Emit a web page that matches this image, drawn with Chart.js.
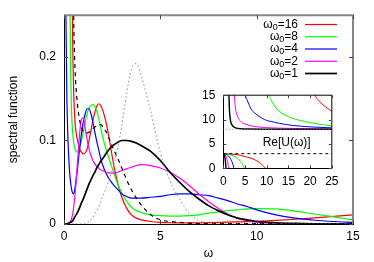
<!DOCTYPE html>
<html>
<head>
<meta charset="utf-8">
<script src="https://cdn.jsdelivr.net/npm/chart.js@4.4.0/dist/chart.umd.min.js"></script>
<style>
  html, body { margin: 0; padding: 0; background: #fff; }
  #wrap { position: relative; width: 374px; height: 262px; }
  #mainChart { position: absolute; left: 0; top: 0; }
  #insetChart { position: absolute; left: 195px; top: 80px; }
</style>
</head>
<body>
<div id="wrap">
  <canvas id="mainChart" width="374" height="262" style="width:374px;height:262px"></canvas>
  <canvas id="insetChart" width="150" height="112" style="width:150px;height:112px"></canvas>
</div>
<script>
// Spectral functions - main panel
const omega = [0, 0.05, 0.1, 0.15, 0.2, 0.25, 0.3, 0.35, 0.4, 0.45, 0.5, 0.55, 0.6,
  0.7, 0.8, 0.9, 1.0, 1.1, 1.2, 1.3, 1.4, 1.5, 1.6, 1.7, 1.8, 1.9, 2.0,
  2.2, 2.4, 2.6, 2.8, 3.0, 3.25, 3.5, 3.75, 4.0,
  4.5, 5.0, 5.5, 6.0, 6.5, 7.0, 7.5, 8.0, 8.5, 9.0, 9.5, 10, 11, 12, 13, 14, 15];

const specW16 = [8, 8, 6, 4, 2.5, 1.5, 0.9, 0.55, 0.34, 0.22, 0.16, 0.13, 0.115,
  0.1, 0.091, 0.086, 0.084, 0.085, 0.09, 0.1, 0.112, 0.124, 0.134, 0.141, 0.144, 0.142, 0.137,
  0.12, 0.095, 0.068, 0.048, 0.032, 0.019, 0.011, 0.007, 0.005,
  0.003, 0.002, 0.0015, 0.0013, 0.0013, 0.0014, 0.0016, 0.0019, 0.0022, 0.0025, 0.0028, 0.0032, 0.0043, 0.0057, 0.0074, 0.0092, 0.011];

const specW8 = [8, 6, 3, 1.6, 0.9, 0.5, 0.28, 0.18, 0.13, 0.11, 0.098, 0.092, 0.088,
  0.086, 0.09, 0.099, 0.11, 0.122, 0.132, 0.139, 0.142, 0.143, 0.141, 0.135, 0.127, 0.116, 0.105,
  0.088, 0.074, 0.06, 0.047, 0.037, 0.027, 0.02, 0.016, 0.014,
  0.011, 0.01, 0.0095, 0.0095, 0.01, 0.011, 0.013, 0.0145, 0.016, 0.017, 0.018, 0.0185, 0.018, 0.0155, 0.012, 0.0085, 0.005];

const specW4 = [5, 0.6, 0.25, 0.15, 0.105, 0.078, 0.06, 0.048, 0.041, 0.037, 0.036, 0.04, 0.048,
  0.066, 0.088, 0.107, 0.122, 0.132, 0.138, 0.138, 0.132, 0.122, 0.11, 0.099, 0.089, 0.079, 0.071,
  0.06, 0.052, 0.046, 0.041, 0.036, 0.033, 0.031, 0.031, 0.031,
  0.032, 0.033, 0.035, 0.036, 0.036, 0.035, 0.034, 0.031, 0.028, 0.024, 0.021, 0.017, 0.011, 0.007, 0.0045, 0.003, 0.002];

const specW2 = [0, 0, 0, 0, 0.0005, 0.001, 0.002, 0.004, 0.007, 0.012, 0.02, 0.03, 0.042,
  0.074, 0.105, 0.125, 0.127, 0.115, 0.101, 0.09, 0.082, 0.076, 0.072, 0.069, 0.067, 0.065, 0.064,
  0.062, 0.061, 0.061, 0.062, 0.064, 0.066, 0.068, 0.07, 0.071,
  0.07, 0.067, 0.062, 0.055, 0.046, 0.036, 0.027, 0.019, 0.012, 0.007, 0.004, 0.002, 0.001, 0, 0, 0, 0];

const specW1 = [0, 0, 0, 0.0003, 0.0006, 0.001, 0.0015, 0.002, 0.003, 0.004, 0.006, 0.008, 0.01,
  0.014, 0.019, 0.025, 0.03, 0.036, 0.042, 0.048, 0.053, 0.058, 0.062, 0.067, 0.071, 0.075, 0.078,
  0.085, 0.091, 0.095, 0.098, 0.1, 0.1, 0.099, 0.097, 0.094,
  0.087, 0.076, 0.062, 0.05, 0.039, 0.03, 0.022, 0.016, 0.011, 0.007, 0.005, 0.003, 0.0015, 0.0007, 0.0003, 0.0001, 0];

// dashed black curve
const specDashed = [20, 14, 10, 7, 5, 3.5, 2.2, 1.2, 0.6, 0.36, 0.25, 0.2, 0.172,
  0.143, 0.126, 0.116, 0.111, 0.109, 0.109, 0.11, 0.112, 0.114, 0.116, 0.118, 0.119, 0.119, 0.117,
  0.11, 0.099, 0.088, 0.078, 0.067, 0.053, 0.041, 0.031, 0.023,
  0.011, 0.005, 0.003, 0.002, 0.001, 0.0005, 0.0005, 0.0005, 0.0005, 0.0005, 0.0005, 0.0005, 0.0005, 0.0005, 0.0005, 0.0005, 0.0005];

// dotted grey curve
const specDotted = [0, 0, 0, 0, 0, 0, 0, 0, 0, 0, 0, 0, 0,
  0, 0, 0, 0, 0.0005, 0.001, 0.003, 0.005, 0.008, 0.012, 0.016, 0.021, 0.026, 0.032,
  0.044, 0.057, 0.072, 0.092, 0.118, 0.156, 0.186, 0.192, 0.178,
  0.135, 0.085, 0.052, 0.03, 0.013, 0.004, 0.001, 0, 0, 0, 0, 0, 0, 0, 0, 0, 0];

const seriesLabels = ['ω₀=16', 'ω₀=8', 'ω₀=4', 'ω₀=2', 'ω₀=1'];
const seriesColors = ['#ff0000', '#00ff00', '#0000ff', '#ff00ff', '#000000'];

const xTicks = [0, 5, 10, 15];
const yTicks = [0, 0.1, 0.2];

// Re[U(omega)] inset: [omega, value] pairs, lower and upper branch
const reULow16 = [[0, 3], [3.2, 2.8], [4.8, 2.45], [6.4, 2.05], [8.0, 1.4], [8.8, 0.85], [9.5, 0.2], [9.7, 0]];
const reULow8 = [[0, 3], [1.6, 2.8], [2.4, 2.5], [3.2, 2.05], [4.0, 1.35], [4.4, 0.85], [4.8, 0.2], [4.9, 0]];
const reULow4 = [[0, 3], [0.8, 2.8], [1.2, 2.5], [1.6, 2.05], [2.0, 1.35], [2.2, 0.85], [2.4, 0.2], [2.45, 0]];
const reULow2 = [[0, 3], [0.4, 2.8], [0.6, 2.5], [0.8, 2.05], [1.0, 1.35], [1.1, 0.85], [1.2, 0.2], [1.22, 0]];
const reULow1 = [[0, 3], [0.2, 2.8], [0.3, 2.5], [0.4, 2.05], [0.5, 1.35], [0.55, 0.85], [0.6, 0.2], [0.61, 0]];

const reUHigh16 = [[20.5, 16.5], [21.1, 15], [22, 13.9], [23, 13.0], [24, 12.3], [25, 11.65]];
const reUHigh8 = [[10.2, 17], [10.6, 15], [11, 14.1], [11.5, 13.2], [12.4, 12.1], [13.5, 11.3], [15, 10.6],
  [16.5, 10.1], [18, 9.75], [20, 9.35], [22.5, 9.0], [25, 8.7]];
const reUHigh4 = [[4.8, 17.5], [5.1, 15], [5.5, 14.0], [6, 12.9], [6.5, 12.0], [7.3, 11.3], [8, 10.8],
  [9.5, 10.0], [11, 9.6], [13, 9.2], [16, 8.8], [20, 8.5], [25, 8.3]];
const reUHigh2 = [[2.4, 17.5], [2.55, 15], [2.8, 12.3], [3.0, 11.4], [3.3, 10.6], [4.0, 9.6], [5.0, 9.1],
  [7, 8.6], [10, 8.35], [15, 8.2], [25, 8.08]];
const reUHigh1 = [[1.2, 17.5], [1.3, 15], [1.4, 12.3], [1.5, 10.9], [1.7, 9.6], [2.0, 8.9], [2.5, 8.45],
  [3.0, 8.25], [4, 8.12], [6, 8.05], [10, 8.02], [25, 8.0]];

const reUInf = [[0, 8], [25, 8]];
const reUZero = [[0, 3], [25, 3]];

const insetXTicks = [0, 5, 10, 15, 20, 25];
const insetYTicks = [0, 5, 10, 15];

const FONT = "'Liberation Sans', Arial, sans-serif";

function pts(xs, ys) { return xs.map((x, i) => ({ x: x, y: ys[i] })); }
function pairs(list) { return list.map(p => ({ x: p[0], y: p[1] })); }

// border on top/right plus inward tick marks on every side
const frame = {
  id: 'frame',
  afterDraw(chart, args, opts) {
    const { ctx, chartArea: a, scales: { x, y } } = chart;
    ctx.save();
    ctx.strokeStyle = opts.edgeColor;
    ctx.lineWidth = opts.edgeWidth;
    ctx.beginPath();
    ctx.moveTo(a.left, a.top);
    ctx.lineTo(a.right, a.top);
    ctx.lineTo(a.right, a.bottom);
    ctx.stroke();
    ctx.strokeStyle = opts.tickColor;
    ctx.lineWidth = 1;
    ctx.beginPath();
    x.ticks.forEach(t => {
      const px = Math.round(x.getPixelForValue(t.value)) + 0.5;
      ctx.moveTo(px, a.bottom); ctx.lineTo(px, a.bottom - opts.len);
      ctx.moveTo(px, a.top); ctx.lineTo(px, a.top + opts.len);
    });
    y.ticks.forEach(t => {
      const py = Math.round(y.getPixelForValue(t.value)) + 0.5;
      ctx.moveTo(a.left, py); ctx.lineTo(a.left + opts.len, py);
      ctx.moveTo(a.right, py); ctx.lineTo(a.right - opts.len, py);
    });
    ctx.stroke();
    if (opts.note) {
      ctx.fillStyle = '#000';
      ctx.font = '12px ' + FONT;
      ctx.textAlign = 'center';
      ctx.textBaseline = 'middle';
      ctx.fillText(opts.note.text, x.getPixelForValue(opts.note.x), y.getPixelForValue(opts.note.y));
    }
    ctx.restore();
  }
};

// gnuplot-like key: text right-aligned, sample line to the right
const keyBox = {
  id: 'keyBox',
  afterDraw(chart, args, opts) {
    const ctx = chart.ctx;
    ctx.save();
    let row = 0;
    chart.data.datasets.forEach(ds => {
      if (!ds.label) return;
      const yy = opts.top + row * opts.step;
      const parts = ds.label.split('₀');
      ctx.fillStyle = '#000';
      ctx.textBaseline = 'middle';
      ctx.textAlign = 'left';
      ctx.font = '12px ' + FONT;
      const wBase = ctx.measureText(parts[0]).width;
      const wRest = ctx.measureText(parts[1]).width;
      ctx.font = '9px ' + FONT;
      const wSub = ctx.measureText('0').width;
      let xx = opts.textRight - wRest - wSub - wBase;
      ctx.font = '12px ' + FONT;
      ctx.fillText(parts[0], xx, yy);
      ctx.font = '9px ' + FONT;
      ctx.fillText('0', xx + wBase, yy + 3);
      ctx.font = '12px ' + FONT;
      ctx.fillText(parts[1], xx + wBase + wSub, yy);
      ctx.strokeStyle = ds.borderColor;
      ctx.lineWidth = ds.borderWidth;
      ctx.beginPath();
      ctx.moveTo(opts.lineLeft, yy);
      ctx.lineTo(opts.lineRight, yy);
      ctx.stroke();
      row++;
    });
    ctx.restore();
  }
};

const mainSeries = [specW16, specW8, specW4, specW2, specW1];
const mainDatasets = mainSeries.map((vals, i) => ({
  label: seriesLabels[i],
  data: pts(omega, vals),
  borderColor: seriesColors[i],
  borderWidth: i === 4 ? 1.7 : 1.2,
  order: 7 - i
}));
mainDatasets.push({
  data: pts(omega, specDashed), borderColor: '#000', borderWidth: 1.2, borderDash: [4, 4], order: 1
});
mainDatasets.push({
  data: pts(omega, specDotted), borderColor: '#888', borderWidth: 1, borderDash: [1.5, 2.5], order: 0
});

const tickFont = { family: FONT, size: 12 };

const mainChart = new Chart(document.getElementById('mainChart'), {
  type: 'line',
  data: { datasets: mainDatasets },
  options: {
    responsive: false,
    animation: false,
    layout: { padding: { top: 14, right: 21, left: 0, bottom: 0 } },
    elements: {
      point: { radius: 0 },
      line: { cubicInterpolationMode: 'monotone', fill: false }
    },
    plugins: {
      legend: { display: false },
      tooltip: { enabled: false },
      frame: { edgeColor: '#888', edgeWidth: 2, tickColor: '#444', len: 4 },
      keyBox: { top: 24.5, step: 12.25, textRight: 298, lineLeft: 305, lineRight: 337 }
    },
    scales: {
      x: {
        type: 'linear', min: 0, max: 15,
        afterBuildTicks: s => { s.ticks = xTicks.map(v => ({ value: v })); },
        afterFit: s => { s.height = 38; },
        grid: { display: false, drawTicks: false },
        border: { display: true, color: '#000', width: 1 },
        ticks: { color: '#000', font: tickFont, padding: 5, maxRotation: 0 },
        title: { display: true, text: 'ω', color: '#000', font: tickFont, padding: { top: 0, bottom: 1 } }
      },
      y: {
        type: 'linear', min: 0, max: 0.25,
        afterBuildTicks: s => { s.ticks = yTicks.map(v => ({ value: v })); },
        afterFit: s => { s.width = 64; },
        grid: { display: false, drawTicks: false },
        border: { display: true, color: '#000', width: 1 },
        ticks: { color: '#000', font: tickFont, padding: 8, callback: v => String(v) },
        title: { display: true, text: 'spectral function', color: '#000', font: tickFont, padding: { top: 6, bottom: 0 } }
      }
    }
  },
  plugins: [frame, keyBox]
});

// Inset
const lowBranches = [reULow16, reULow8, reULow4, reULow2, reULow1];
const highBranches = [reUHigh16, reUHigh8, reUHigh4, reUHigh2, reUHigh1];
const insetDatasets = [];
lowBranches.forEach((b, i) => {
  insetDatasets.push({ data: pairs(b), borderColor: seriesColors[i], borderWidth: i === 4 ? 1.4 : 1, order: 7 - i });
  insetDatasets.push({ data: pairs(highBranches[i]), borderColor: seriesColors[i], borderWidth: i === 4 ? 1.4 : 1, order: 7 - i });
});
insetDatasets.push({ data: pairs(reUInf), borderColor: '#888', borderWidth: 1, borderDash: [1, 2], order: 0 });
insetDatasets.push({ data: pairs(reUZero), borderColor: '#000', borderWidth: 1, borderDash: [3, 3], order: 0 });

const insetChart = new Chart(document.getElementById('insetChart'), {
  type: 'line',
  data: { datasets: insetDatasets },
  options: {
    responsive: false,
    animation: false,
    layout: { padding: { top: 11, right: 7.3, left: 0, bottom: 0 } },
    elements: {
      point: { radius: 0 },
      line: { cubicInterpolationMode: 'monotone', fill: false }
    },
    plugins: {
      legend: { display: false },
      tooltip: { enabled: false },
      frame: { edgeColor: '#000', edgeWidth: 1, tickColor: '#444', len: 3, note: { text: 'Re[U(ω)]', x: 14.6, y: 5.2 } }
    },
    scales: {
      x: {
        type: 'linear', min: 0, max: 25,
        afterBuildTicks: s => { s.ticks = insetXTicks.map(v => ({ value: v })); },
        afterFit: s => { s.height = 23.7; },
        grid: { display: false, drawTicks: false },
        border: { display: true, color: '#000', width: 1 },
        ticks: { color: '#000', font: tickFont, padding: 6.5, maxRotation: 0 }
      },
      y: {
        type: 'linear', min: 0, max: 15,
        afterBuildTicks: s => { s.ticks = insetYTicks.map(v => ({ value: v })); },
        afterFit: s => { s.width = 28.3; },
        grid: { display: false, drawTicks: false },
        border: { display: true, color: '#000', width: 1 },
        ticks: { color: '#000', font: tickFont, padding: 8 }
      }
    }
  },
  plugins: [frame]
});
</script>
</body>
</html>
